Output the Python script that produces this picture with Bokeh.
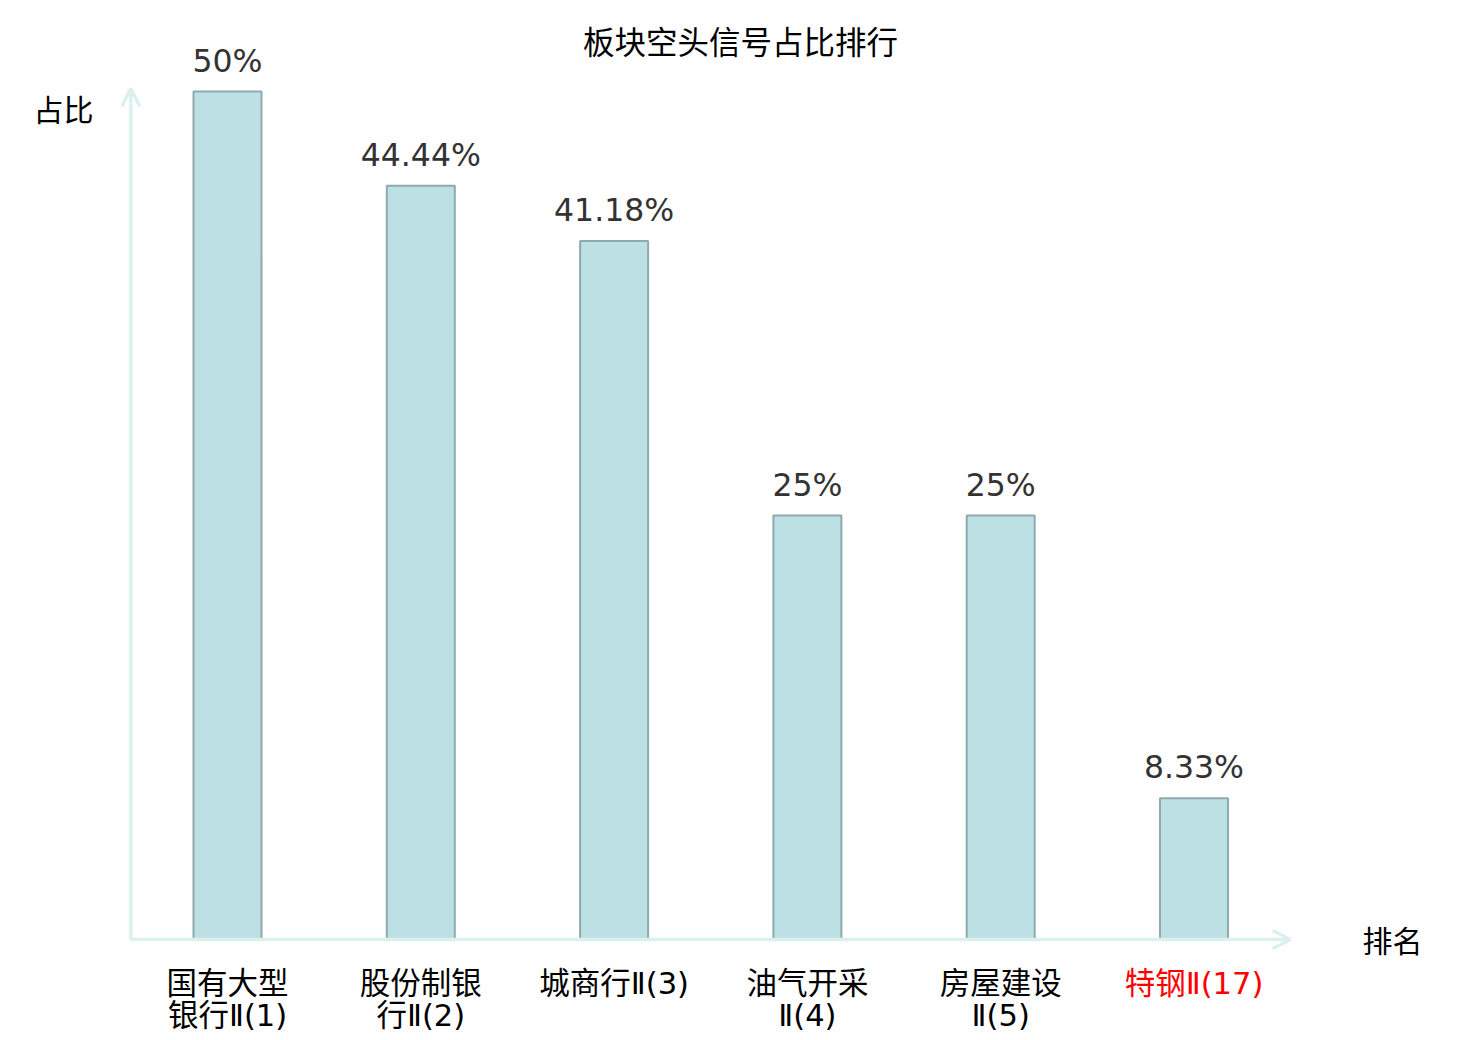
from bokeh.plotting import figure
from bokeh.models import ColumnDataSource, Arrow, OpenHead, Range1d, Label
from bokeh.core.properties import value
from bokeh.embed import file_html
from bokeh.resources import INLINE

title = "板块空头信号占比排行"
cat_line1 = ["国有大型", "股份制银", "城商行Ⅱ(3)", "油气开采", "房屋建设", "特钢Ⅱ(17)"]
cat_line2 = ["银行Ⅱ(1)", "行Ⅱ(2)", "", "Ⅱ(4)", "Ⅱ(5)", ""]
values = [50.0, 44.44, 41.18, 25.0, 25.0, 8.33]
value_labels = ["50%", "44.44%", "41.18%", "25%", "25%", "8.33%"]
label_colors = ["#000000", "#000000", "#000000", "#000000", "#000000", "#ff0000"]
y_axis_name = "占比"
x_axis_name = "排名"

CJK = "Noto Sans CJK SC"
MIXED = "DejaVu Sans ExtraLight, DejaVu Sans, Noto Sans CJK SC"
W, H = 1480, 1040
px_x = 193.3
px_y = 16.96
x0 = -227 / px_x
y1 = 939 / px_y

p = figure(width=W, height=H, output_backend="svg", toolbar_location=None,
           x_range=Range1d(x0, x0 + W / px_x), y_range=Range1d(y1 - H / px_y, y1),
           x_axis_location=None, y_axis_location=None, min_border=0,
           outline_line_color=None, background_fill_color="white", border_fill_color="white")
p.grid.visible = False

src = ColumnDataSource(dict(x=list(range(len(values))), top=values, vl=value_labels,
                            c1=cat_line1, c2=cat_line2, col=label_colors,
                            zero=[0] * len(values)))

p.vbar(x="x", top="top", width=68 / px_x, source=src, fill_color="#bce0e3",
       line_color="#8eaaac", line_width=2)

p.text(x="x", y="top", text="vl", source=src, text_align="center", text_baseline="alphabetic",
       y_offset=-31, text_font=value("DejaVu Sans"), text_font_size="31.5px", text_color="#333333")

p.text(x="x", y="zero", text="c1", source=src, text_align="center", text_baseline="top",
       y_offset=26, text_font=value(MIXED), text_font_size="30.5px", text_color="col")
p.text(x="x", y="zero", text="c2", source=src, text_align="center", text_baseline="top",
       y_offset=58, text_font=value(MIXED), text_font_size="30.5px", text_color="col")

n = len(values)
axis_col = "#dcf1ee"
p.add_layout(Arrow(end=OpenHead(size=18, line_color=axis_col, line_width=3.5),
                   x_start=-0.5, y_start=0, x_end=n - 0.5, y_end=0,
                   line_color=axis_col, line_width=3.5))
p.add_layout(Arrow(end=OpenHead(size=18, line_color=axis_col, line_width=3.5),
                   x_start=-0.5, y_start=0, x_end=-0.5, y_end=(939 - 88) / px_y,
                   line_color=axis_col, line_width=3.5))

p.add_layout(Label(x=740, y=H - 39, x_units="screen", y_units="screen", text=title,
                   text_align="center", text_baseline="middle", text_font=CJK,
                   text_font_size="31.5px", text_color="#000000"))
p.add_layout(Label(x=63, y=H - 107, x_units="screen", y_units="screen", text=y_axis_name,
                   text_align="center", text_baseline="middle", text_font=CJK,
                   text_font_size="30px", text_color="#000000"))
p.add_layout(Label(x=1392, y=H - 938, x_units="screen", y_units="screen", text=x_axis_name,
                   text_align="center", text_baseline="middle", text_font=CJK,
                   text_font_size="30px", text_color="#000000"))

open("out.html", "w").write(file_html(p, INLINE))
